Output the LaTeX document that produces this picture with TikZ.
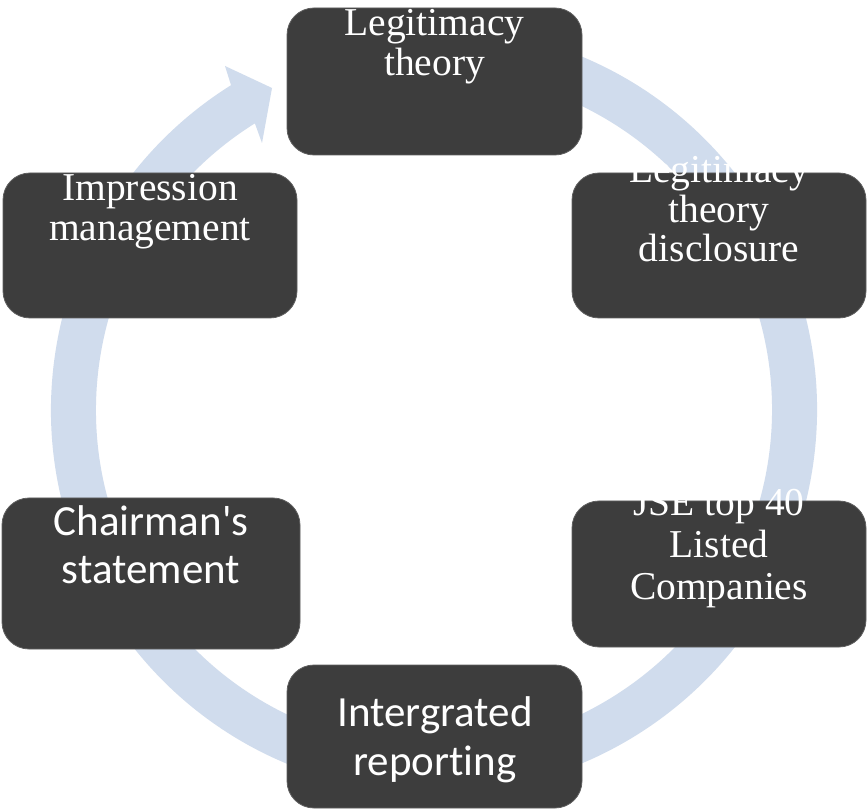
\documentclass[tikz,border=0pt]{standalone}
\usepackage{fontspec}
\setmainfont{Liberation Serif}
\newfontfamily\carlitofont[Ligatures=NoCommon,RawFeature={-calt}]{Carlito}
\usetikzlibrary{calc}
\definecolor{ringblue}{RGB}{208,220,237}
\definecolor{boxgray}{RGB}{61,61,61}
\definecolor{boxedge}{RGB}{95,95,95}
\tikzset{
  box/.style={draw=boxedge, line width=0.8pt, fill=boxgray, rounded corners=27pt,
    inner sep=0pt, outer sep=0pt},
  serifl/.style={text=white, align=center, anchor=north, inner sep=0pt},
  sansl/.style={text=white, align=center, anchor=north, inner sep=0pt},
}
\begin{document}
\begin{tikzpicture}[x=1pt,y=1pt]
\useasboundingbox[fill=white] (0,0) rectangle (867,809);
\coordinate (c) at (434,399);
% circular arrow
\fill[ringblue] ($(c)+(80:383)$) arc[start angle=80, end angle=-238, radius=383]
  -- (225,743) -- (272,721) -- (262,666)
  -- ($(c)+(122:338)$) arc[start angle=122, end angle=440, radius=338] -- cycle;
% boxes
\node[box, minimum width=295pt, minimum height=147pt] (b1) at (434.5,727.5) {};
\node[box, minimum width=294pt, minimum height=145pt] (b2) at (719,563.5) {};
\node[box, minimum width=294pt, minimum height=146pt] (b3) at (719,235) {};
\node[box, minimum width=295pt, minimum height=143pt] (b4) at (434.5,72.5) {};
\node[box, minimum width=298pt, minimum height=151pt] (b5) at (151,235.5) {};
\node[box, minimum width=294pt, minimum height=145pt] (b6) at (150,563.5) {};
% texts
\node[serifl, font=\fontsize{39.5}{40}\selectfont] (t1) at (434.5,802) {\strut Legitimacy\\theory};
\node[serifl, font=\fontsize{39.5}{39}\selectfont] (t2) at (719,654.3) {\strut Legitimacy\\theory\\disclosure};
\node[serifl, font=\fontsize{39.5}{42}\selectfont] (t3) at (719,323.4) {\strut JSE top 40\\Listed\\Companies};
\node[sansl, font=\carlitofont\fontsize{43}{49}\selectfont] (t4) at (435,117.3) {\strut Intergrated\\report\kern0pt ing};
\node[sansl, font=\carlitofont\fontsize{43}{48}\selectfont] (t5) at (151,307.6) {\strut Chairman's\\statement};
\node[serifl, font=\fontsize{39.5}{40}\selectfont] (t6) at (150,637) {\strut Impression\\management};
\end{tikzpicture}
\end{document}
